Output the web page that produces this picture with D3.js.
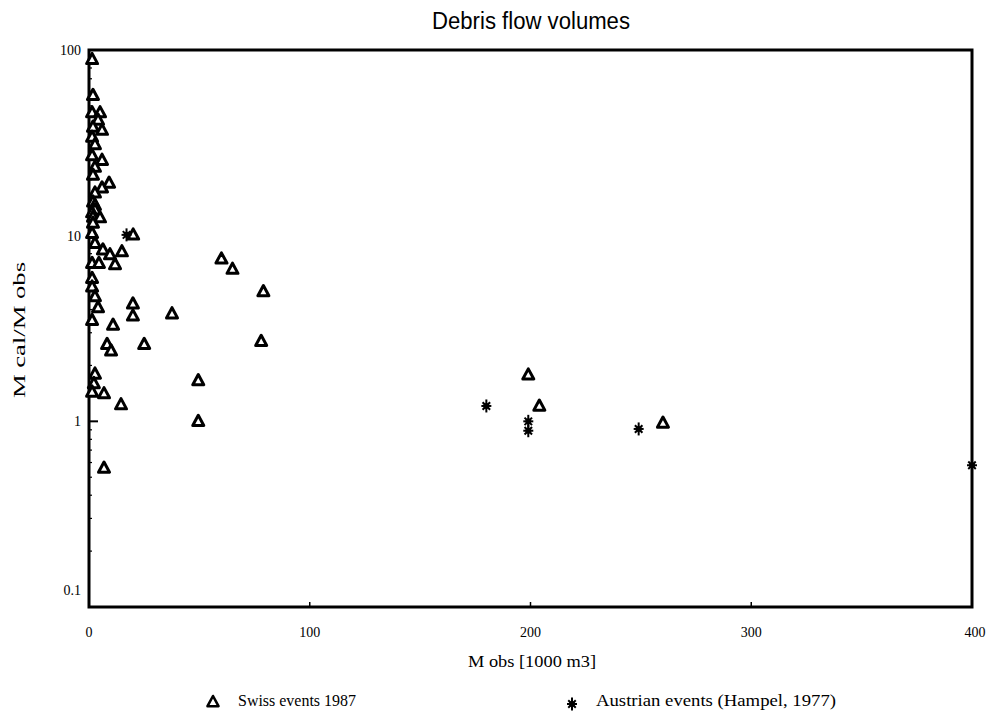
<!DOCTYPE html>
<html><head><meta charset="utf-8">
<script src="https://cdn.jsdelivr.net/npm/d3@7"></script>
<style>body{margin:0;background:#fff}svg{display:block}</style>
</head><body>
<svg id="c" width="988" height="723"></svg>
<script>
const title = "Debris flow volumes";
const xTicks = [0, 100, 200, 300, 400];
const yTicks = [0.1, 1, 10, 100];
const yTickLabels = ["0.1", "1", "10", "100"];
const seriesNames = ["Swiss events 1987", "Austrian events (Hampel, 1977)"];
// [M obs (1000 m3), M cal/M obs]
const swissX = [1.4,1.8,1.4,5.0,4.1,1.8,5.9,1.4,2.7,1.4,5.9,2.7,1.8,9.1,5.9,2.7,1.8,2.7,2.7,1.4,1.8,5.0,1.8,1.4,2.7,6.3,9.5,14.9,1.4,4.5,11.8,1.4,1.4,2.7,4.1,1.4,19.9,19.9,37.6,10.9,8.2,10,25,2.7,2.2,1.4,6.8,14.5,6.8,60,65,79,78,49.5,49.5,199,204,260,20];
const swissY = [89,57,46,46,42,38.5,37,34,31,27,25.5,23.4,21.2,19.2,18.1,17,15.2,14.6,13.8,13.3,12.6,12.5,11.7,10.3,9.1,8.4,7.9,8.2,7.1,7.1,7.0,5.9,5.3,4.7,4.1,3.5,4.3,3.7,3.8,3.3,2.6,2.4,2.6,1.8,1.6,1.44,1.41,1.23,0.56,7.5,6.6,5.0,2.7,1.66,1.0,1.78,1.21,0.98,10.1];
const austX = [17, 180, 199, 199, 249, 400];
const austY = [10.1, 1.21, 1.0, 0.89, 0.91, 0.58];

const svg = d3.select("#c");
const L = 89, R = 972, T = 50, B = 607;
const x = d3.scaleLinear().domain([0, 400]).range([L, R]);
const y = d3.scaleLog().domain([0.1, 100]).range([B, T]);
const serif = "'Liberation Serif','Times New Roman',serif";

svg.append("text").attr("x", 531).attr("y", 29).attr("text-anchor", "middle")
  .attr("font-family", "'Liberation Sans',Arial,sans-serif").attr("font-size", 23)
  .attr("textLength", 198).attr("lengthAdjust", "spacingAndGlyphs").text(title);

// minor ticks on y (inside)
const minor = [];
[0.1, 1, 10].forEach(d => { for (let k = 2; k <= 9; k++) minor.push(d * k); });
svg.append("g").selectAll("line").data(minor).join("line")
  .attr("x1", L).attr("x2", L + 3).attr("y1", d => y(d)).attr("y2", d => y(d))
  .attr("stroke", "#000").attr("stroke-width", 1.2);
// major y ticks
svg.append("g").selectAll("line").data(yTicks).join("line")
  .attr("x1", L).attr("x2", L + 9).attr("y1", d => y(d)).attr("y2", d => y(d))
  .attr("stroke", "#000").attr("stroke-width", 2);
svg.append("g").selectAll("text").data(yTicks).join("text")
  .attr("x", 81).attr("y", (d, i) => i === 0 ? y(d) - 12 : y(d) + 5)
  .attr("text-anchor", "end").attr("font-family", serif).attr("font-size", 14)
  .text((d, i) => yTickLabels[i]);
// x ticks
svg.append("g").selectAll("line").data(xTicks.slice(1, 4)).join("line")
  .attr("x1", d => x(d)).attr("x2", d => x(d)).attr("y1", B).attr("y2", B - 5)
  .attr("stroke", "#000").attr("stroke-width", 1.5);
svg.append("g").selectAll("text").data(xTicks).join("text")
  .attr("x", d => x(d) + (d === 400 ? 3 : 0)).attr("y", 637)
  .attr("text-anchor", "middle").attr("font-family", serif).attr("font-size", 14)
  .text(d => d);

// frame
svg.append("rect").attr("x", L).attr("y", T).attr("width", R - L).attr("height", B - T)
  .attr("fill", "none").attr("stroke", "#000").attr("stroke-width", 3);

svg.append("text").attr("x", 532).attr("y", 667).attr("text-anchor", "middle")
  .attr("font-family", serif).attr("font-size", 16).attr("textLength", 128)
  .attr("lengthAdjust", "spacingAndGlyphs").text("M obs [1000 m3]");
svg.append("text").attr("transform", "translate(25,330) rotate(-90)").attr("text-anchor", "middle")
  .attr("font-family", serif).attr("font-size", 17).attr("textLength", 136)
  .attr("lengthAdjust", "spacingAndGlyphs").text("M cal/M obs");

const triPath = "M0,-6L5.5,4.2L-5.5,4.2Z";
function star(g) {
  const s = 5;
  g.append("line").attr("x1", 0).attr("x2", 0).attr("y1", -s - 1.5).attr("y2", s + 1.5);
  g.append("line").attr("x1", -s).attr("x2", s).attr("y1", 0).attr("y2", 0);
  g.append("line").attr("x1", -s * 0.75).attr("x2", s * 0.75).attr("y1", -s * 0.75).attr("y2", s * 0.75);
  g.append("line").attr("x1", -s * 0.75).attr("x2", s * 0.75).attr("y1", s * 0.75).attr("y2", -s * 0.75);
  g.selectAll("line").attr("stroke", "#000").attr("stroke-width", 2);
  g.append("circle").attr("r", 3).attr("fill", "#000");
}

const swiss = swissX.map((v, i) => [v, swissY[i]]);
const aust = austX.map((v, i) => [v, austY[i]]);
svg.append("g").selectAll("path").data(swiss).join("path")
  .attr("d", triPath).attr("transform", d => `translate(${x(d[0])},${y(d[1])})`)
  .attr("fill", "#fff").attr("stroke", "#000").attr("stroke-width", 3).attr("stroke-linejoin", "round");
svg.append("g").selectAll("g").data(aust).join("g")
  .attr("transform", d => `translate(${x(d[0])},${y(d[1])})`).each(function () { star(d3.select(this)); });

// legend
const lg = svg.append("g");
lg.append("path").attr("d", triPath).attr("transform", "translate(213,702)")
  .attr("fill", "#fff").attr("stroke", "#000").attr("stroke-width", 2.6).attr("stroke-linejoin", "round");
lg.append("text").attr("x", 238).attr("y", 706).attr("font-family", serif).attr("font-size", 17)
  .attr("textLength", 118).attr("lengthAdjust", "spacingAndGlyphs").text(seriesNames[0]);
const sg = lg.append("g").attr("transform", "translate(572,704)");
star(sg);
lg.append("text").attr("x", 596).attr("y", 706).attr("font-family", serif).attr("font-size", 17)
  .attr("textLength", 240).attr("lengthAdjust", "spacingAndGlyphs").text(seriesNames[1]);
</script>
</body></html>
